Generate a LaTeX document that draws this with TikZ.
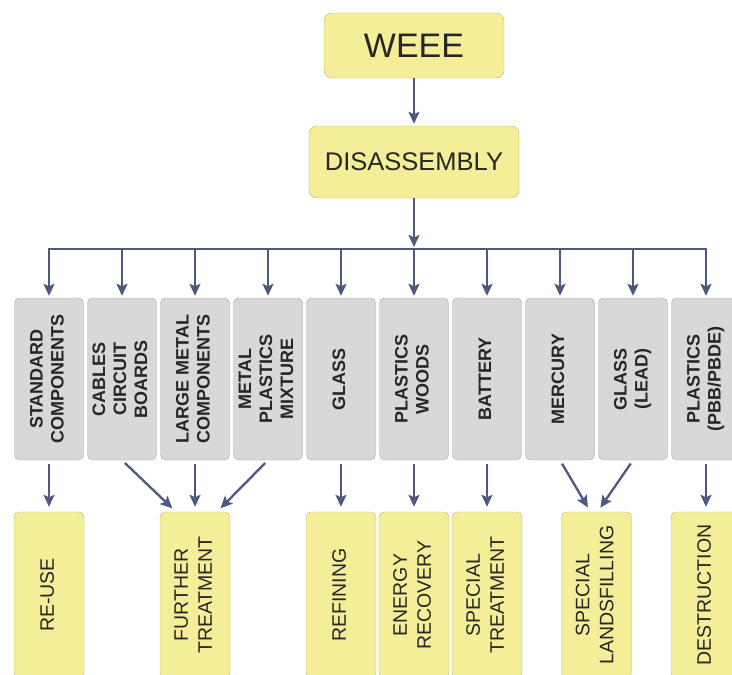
\documentclass[tikz,border=0pt]{standalone}
\usepackage{fontspec}
\setmainfont{Liberation Sans}
\usetikzlibrary{positioning,arrows.meta,calc}
\definecolor{boxyellow}{RGB}{245,238,152}
\definecolor{boxyellowline}{RGB}{188,180,118}
\definecolor{boxgray}{RGB}{216,216,216}
\definecolor{boxgrayline}{RGB}{168,168,168}
\definecolor{arrowblue}{RGB}{78,88,128}
\definecolor{inktext}{RGB}{38,38,38}
\newcommand{\vtext}[1]{\rotatebox{90}{\begin{tabular}{@{}c@{}}#1\end{tabular}}}

\begin{document}
\begin{tikzpicture}[x=1pt,y=1pt,node distance=73pt,on grid,
  headbox/.style={draw=boxyellowline,fill=boxyellow,rounded corners=8pt,text=inktext,inner sep=0pt},
  part/.style={draw=boxgrayline,fill=boxgray,rounded corners=5pt,minimum width=69pt,minimum height=162pt,
    inner sep=0pt,text=inktext,font=\fontsize{18}{21}\selectfont\bfseries},
  fate/.style={draw=boxyellowline,fill=boxyellow,rounded corners=5pt,minimum width=70pt,minimum height=166pt,
    inner sep=0pt,text=inktext,font=\fontsize{19.5}{24}\selectfont},
  link/.style={draw=arrowblue,line width=2.3pt,-{Stealth[length=12pt,width=11pt,inset=2.5pt]},shorten >=2pt},
  lowlink/.style={link,shorten <=4pt,shorten >=5pt}]
\useasboundingbox (0,0) rectangle (732,-675);
\node[headbox,minimum width=180pt,minimum height=65pt,font=\fontsize{34}{38}\selectfont] (WEEE) at (414,-45.5) {WEEE};
\node[headbox,minimum width=210pt,minimum height=72pt,font=\fontsize{25.5}{30}\selectfont] (DIS) [below=116.5pt of WEEE] {DISASSEMBLY};
\coordinate (bus) at ($(DIS)+(0,-87)$);
\node[part] (P_6) [below=217pt of DIS] {\vtext{PLASTICS\\WOODS}};
\node[part] (P_5) [left=of P_6] {\vtext{GLASS}};
\node[part] (P_4) [left=of P_5] {\vtext{METAL\\PLASTICS\\MIXTURE}};
\node[part] (P_3) [left=of P_4] {\vtext{LARGE METAL\\COMPONENTS}};
\node[part] (P_2) [left=of P_3] {\vtext{CABLES\\CIRCUIT\\BOARDS}};
\node[part] (P_1) [left=of P_2] {\vtext{STANDARD\\COMPONENTS}};
\node[part] (P_7) [right=of P_6] {\vtext{BATTERY}};
\node[part] (P_8) [right=of P_7] {\vtext{MERCURY}};
\node[part] (P_9) [right=of P_8] {\vtext{GLASS\\(LEAD)}};
\node[part] (P_10) [right=of P_9] {\vtext{PLASTICS\\(PBB/PBDE)}};
\node[fate] (T_1) [below=216pt of P_1] {\vtext{RE-USE}};
\node[fate] (T_2) [below=216pt of P_3] {\vtext{FURTHER\\TREATMENT}};
\node[fate] (T_3) [below=216pt of P_5] {\vtext{REFINING}};
\node[fate] (T_4) [below=216pt of P_6] {\vtext{ENERGY\\RECOVERY}};
\node[fate] (T_5) [below=216pt of P_7] {\vtext{SPECIAL\\TREATMENT}};
\node[fate] (T_6) at ($(P_8)!0.5!(P_9)+(0,-216)$) {\vtext{SPECIAL\\LANDSFILLING}};
\node[fate] (T_7) [below=216pt of P_10] {\vtext{DESTRUCTION}};
% distribution bus
\draw[arrowblue,line width=2.3pt,line cap=rect] (P_1 |- bus) -- (P_10 |- bus);
\draw[link] (WEEE) -- (DIS);
\draw[link] (DIS) -- (bus);
\draw[link] (P_1 |- bus) -- (P_1.north);
\draw[link] (P_2 |- bus) -- (P_2.north);
\draw[link] (P_3 |- bus) -- (P_3.north);
\draw[link] (P_4 |- bus) -- (P_4.north);
\draw[link] (P_5 |- bus) -- (P_5.north);
\draw[link] (P_6 |- bus) -- (P_6.north);
\draw[link] (P_7 |- bus) -- (P_7.north);
\draw[link] (P_8 |- bus) -- (P_8.north);
\draw[link] (P_9 |- bus) -- (P_9.north);
\draw[link] (P_10 |- bus) -- (P_10.north);
% parts to treatments
\draw[lowlink] (P_1.south) -- (T_1.north);
\draw[lowlink] (P_2.south) -- ([xshift=-19pt]T_2.north);
\draw[lowlink] (P_3.south) -- (T_2.north);
\draw[lowlink] (P_4.south) -- ([xshift=22pt]T_2.north);
\draw[lowlink] (P_5.south) -- (T_3.north);
\draw[lowlink] (P_6.south) -- (T_4.north);
\draw[lowlink] (P_7.south) -- (T_5.north);
\draw[lowlink] (P_8.south) -- ([xshift=-6pt]T_6.north);
\draw[lowlink] (P_9.south) -- ([xshift=1pt]T_6.north);
\draw[lowlink] (P_10.south) -- (T_7.north);
\end{tikzpicture}
\end{document}
